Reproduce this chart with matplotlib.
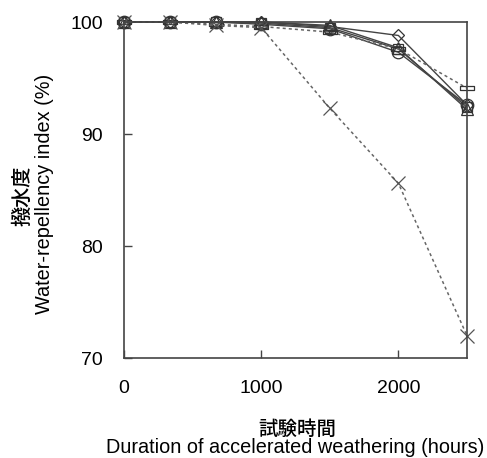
import numpy as np
import matplotlib.pyplot as plt
from matplotlib.path import Path

plt.rcParams['font.family'] = ['Liberation Sans', 'Noto Sans CJK JP']

# Weathering duration (hours)
hours = [0, 333, 667, 1000, 1500, 2000, 2500]

# Water-repellency index (%) per sample
diamond = [100, 100, 100, 100, 99.6, 98.8, 92.6]
circle = [100, 100, 100, 99.8, 99.4, 97.3, 92.6]
square = [100, 100, 100, 99.9, 99.5, 97.6, 92.4]
triangle = [100, 100, 100, 100, 99.7, 97.7, 92.2]
cross = [100, 100, 99.7, 99.5, 92.3, 85.6, 72.0]
bar = [100, 100, 99.8, 99.6, 99.1, 97.6, 94.1]

xticks = [0, 1000, 2000]
yticks = [70, 80, 90, 100]

# flat hollow rectangle marker
bar_marker = Path([(-1, -0.28), (1, -0.28), (1, 0.28), (-1, 0.28), (-1, -0.28)],
                  [Path.MOVETO, Path.LINETO, Path.LINETO, Path.LINETO, Path.CLOSEPOLY])

fig = plt.figure(figsize=(4.87, 4.58), dpi=100)
ax = fig.add_axes([0.2546, 0.2183, 0.7043, 0.7336])

solid = dict(color='#444444', lw=1.0, mfc='none', mec='#333333', mew=0.9, clip_on=False)
dashed = dict(color='#666666', lw=1.1, ls=(0, (2, 2)), mfc='none', mew=0.9, clip_on=False)

ax.plot(hours, diamond, marker='D', ms=6, **solid)
ax.plot(hours, square, marker='s', ms=7, **solid)
ax.plot(hours, circle, marker='o', ms=9, **solid)
ax.plot(hours, triangle, marker='^', ms=8, **solid)
ax.plot(hours, bar, marker=bar_marker, ms=10, mec='#333333', **dashed)
ax.plot(hours, cross, marker='x', ms=10, mec='#555555', **dashed)

ax.set_xlim(0, 2500)
ax.set_ylim(70, 100)
ax.set_xticks(xticks)
ax.set_yticks(yticks)
ax.tick_params(direction='in', length=6, width=1, color='#444444', labelsize=14)
ax.tick_params(axis='x', pad=16)
ax.tick_params(axis='y', pad=15)
for s in ax.spines.values():
    s.set_color('#444444')
    s.set_linewidth(1.2)

# axis titles: Japanese line above the English one
fig.text(0.610, 0.061, '試験時間', fontsize=14, fontweight='medium', ha='center', va='center')
fig.text(0.606, 0.022, 'Duration of accelerated weathering (hours)', fontsize=14.3,
         ha='center', va='center')
fig.text(0.047, 0.572, '撥水度', fontsize=14.5, fontweight='medium', rotation=90,
         ha='center', va='center')
fig.text(0.092, 0.576, 'Water-repellency index (%)', fontsize=14.3, rotation=90,
         ha='center', va='center')

fig.savefig('out.png', dpi=100)
